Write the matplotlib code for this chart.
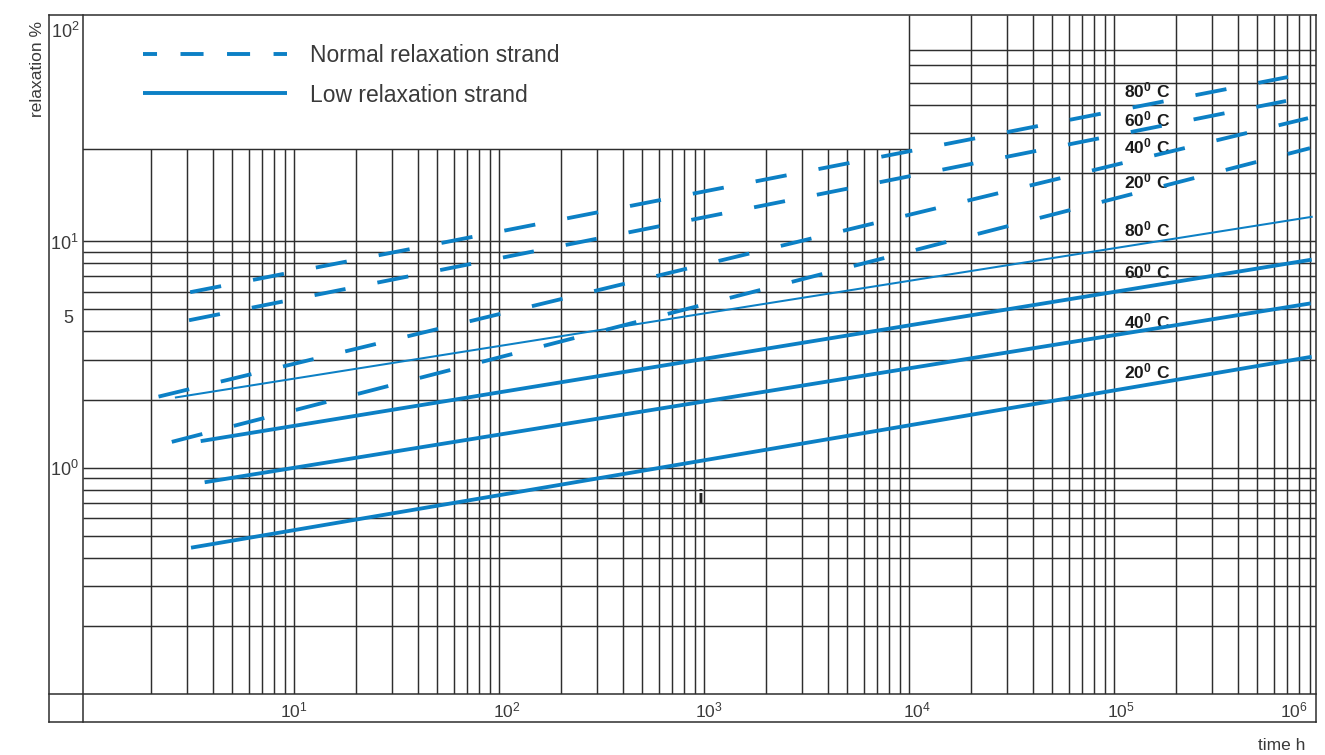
import numpy as np
import matplotlib
matplotlib.use("Agg")
import matplotlib.pyplot as plt
from matplotlib.transforms import offset_copy

plt.rcParams['font.family'] = ['Liberation Sans', 'DejaVu Sans']
plt.rcParams['mathtext.fontset'] = 'custom'
plt.rcParams['mathtext.rm'] = 'Liberation Sans'
plt.rcParams['mathtext.bf'] = 'Liberation Sans:bold'
plt.rcParams['mathtext.default'] = 'regular'
plt.rcParams['lines.scale_dashes'] = False

# ---------------- data (time h, relaxation %) ----------------
temps = ['80', '60', '40', '20']

normal_t_80 = [3.11, 7.05e5]
normal_r_80 = [5.96, 53.2]
normal_t_60 = [3.07, 6.9e5]
normal_r_60 = [4.48, 41.7]
normal_t_40 = [2.18, 8.83e5]
normal_r_40 = [2.06, 35.0]
normal_t_20 = [2.53, 9.03e5]
normal_r_20 = [1.30, 25.8]

low_t_80 = [2.62, 9.31e5]
low_r_80 = [2.04, 12.85]
low_t_60 = [3.50, 9.2e5]
low_r_60 = [1.31, 8.30]
low_t_40 = [3.66, 9.1e5]
low_r_40 = [0.862, 5.32]
low_t_20 = [3.14, 9.2e5]
low_r_20 = [0.443, 3.09]

xtick_vals = [1e1, 1e2, 1e3, 1e4, 1e5, 1e6]
xtick_labels = ['$10^{1}$', '$10^{2}$', '$10^{3}$', '$10^{4}$', '$10^{5}$', '$10^{6}$']
ytick_vals = [100, 10, 5, 1]
ytick_labels = ['$10^{2}$', '$10^{1}$', '5', '$10^{0}$']

# ---------------- styling ----------------
W, H = 1325, 755
BLUE = '#0c80c5'
GRID = '#2e2e2e'
TXT = '#3a3a3a'

fig = plt.figure(figsize=(W / 100, H / 100), dpi=100)

# frame axes in pixel coordinates (layout only)
fr = fig.add_axes([0, 0, 1, 1])
fr.set_xlim(0, W)
fr.set_ylim(H, 0)
fr.axis('off')

L_OUT, L_IN, R, T, B_IN, B_OUT = 49, 83, 1316, 15, 694, 722
frame_kw = dict(color=GRID, lw=1.1, solid_capstyle='projecting')
fr.plot([L_OUT, R], [T, T], **frame_kw)
fr.plot([L_OUT, R], [B_OUT, B_OUT], **frame_kw)
fr.plot([L_OUT, L_OUT], [T, B_OUT], **frame_kw)
fr.plot([R, R], [T, B_OUT], **frame_kw)
fr.plot([L_IN, L_IN], [T, B_OUT], **frame_kw)
fr.plot([L_OUT, R], [B_IN, B_IN], **frame_kw)

# main log-log axes
ax = fig.add_axes([L_IN / W, 1 - B_IN / H, (R - L_IN) / W, (B_IN - T) / H])
ax.set_zorder(2)
ax.patch.set_visible(False)
ax.set_xscale('log')
ax.set_yscale('log')
xmin, xmax = 10 ** -0.03, 10 ** 5.985
ax.set_xlim(xmin, xmax)
ax.set_ylim(0.1, 100)
for s in ax.spines.values():
    s.set_visible(False)
ax.set_xticks([])
ax.set_yticks([])
ax.minorticks_off()
ax.tick_params(which='both', length=0, labelbottom=False, labelleft=False)

top_frac = (B_IN - 149) / (B_IN - T)   # top of the main grid block (left part)

glw = 1.05
xg_low = [k * 10 ** n for n in range(0, 4) for k in range(1, 10) if not (n == 0 and k == 1)]
xg_high = [k * 10 ** n for n in range(4, 6) for k in range(1, 10)]
ax.vlines(xg_low, 0, top_frac, transform=ax.get_xaxis_transform(), color=GRID, lw=glw, zorder=1)
ax.vlines(xg_high, 0, 1, transform=ax.get_xaxis_transform(), color=GRID, lw=glw, zorder=1)
yg = [k * 10 ** n for n in (-1, 0) for k in range(1, 10) if not (n == -1 and k == 1)] + [10]
ax.hlines(yg, 0, 1, transform=ax.get_yaxis_transform(), color=GRID, lw=glw, zorder=1)
ax.hlines([20, 30, 40, 50, 60, 70], 1e4, xmax, color=GRID, lw=glw, zorder=1)
ax.plot([xmin, 1e4], [top_frac, top_frac], transform=ax.get_xaxis_transform(), color=GRID, lw=glw, zorder=1)

# curves
DASH = (0, (22.7, 23.4))
normal = {'80': (normal_t_80, normal_r_80), '60': (normal_t_60, normal_r_60),
          '40': (normal_t_40, normal_r_40), '20': (normal_t_20, normal_r_20)}
low = {'80': (low_t_80, low_r_80), '60': (low_t_60, low_r_60),
       '40': (low_t_40, low_r_40), '20': (low_t_20, low_r_20)}
for t in temps:
    xs, ys = normal[t]
    ax.plot(xs, ys, color=BLUE, lw=2.75, linestyle=DASH, dash_capstyle='butt', zorder=3)
for t in temps:
    xs, ys = low[t]
    ax.plot(xs, ys, color=BLUE, lw=1.45 if t == '80' else 2.75, solid_capstyle='butt', zorder=3)

# tick labels (through the axes transforms, with small pixel offsets)
xlab_dx = [0, 8, 4.5, 7.5, 6.5, -25.5]
for v, lab, dx in zip(xtick_vals, xtick_labels, xlab_dx):
    tr = offset_copy(ax.get_xaxis_transform(), fig=fig, x=dx, y=-(717 - B_IN), units='dots')
    ax.text(v, 0, lab, transform=tr, ha='center', va='baseline', fontsize=12.5, color=TXT, clip_on=False)

ylab_dy = [-23, -8.7, -13.5, -8.3]
ylab_x = [65.5, 64.5, 68, 64.5]
for v, lab, dy, xp in zip(ytick_vals, ytick_labels, ylab_dy, ylab_x):
    tr = offset_copy(ax.get_yaxis_transform(), fig=fig, x=xp - L_IN, y=dy, units='dots')
    ax.text(0, v, lab, transform=tr, ha='center', va='baseline', fontsize=13, color=TXT, clip_on=False)

# axis titles
fr.text(42.5, 117, 'relaxation %', rotation=90, rotation_mode='anchor', ha='left', va='baseline',
        fontsize=12.5, color=TXT)
fr.text(1305, 750, 'time h', ha='right', va='baseline', fontsize=12.5, color=TXT)

# legend
fr.plot([143, 287], [54, 54], color=BLUE, lw=2.8, linestyle=(6.5, (16.6, 16.9)), dash_capstyle='butt')
fr.plot([143, 287], [93, 93], color=BLUE, lw=2.8, solid_capstyle='butt')
fr.text(310, 62, 'Normal relaxation strand', ha='left', va='baseline', fontsize=16.5, color=TXT)
fr.text(310, 101.5, 'Low relaxation strand', ha='left', va='baseline', fontsize=16.5, color=TXT)

# temperature labels
normal_lab_y = [97, 126, 153, 188]
low_lab_y = [236, 278.5, 328, 378]
for t, yb in zip(temps, normal_lab_y):
    fr.text(1124, yb, r'$\mathbf{%s^{0}\ C}$' % t, ha='left', va='baseline', fontsize=12.5, color='#1a1a1a')
for t, yb in zip(temps, low_lab_y):
    fr.text(1124, yb, r'$\mathbf{%s^{0}\ C}$' % t, ha='left', va='baseline', fontsize=12.5, color='#1a1a1a')

fr.text(700.5, 504, 'i', ha='center', va='baseline', fontsize=15, fontweight='bold', color='#222222')

fig.savefig('out.png', dpi=100)
